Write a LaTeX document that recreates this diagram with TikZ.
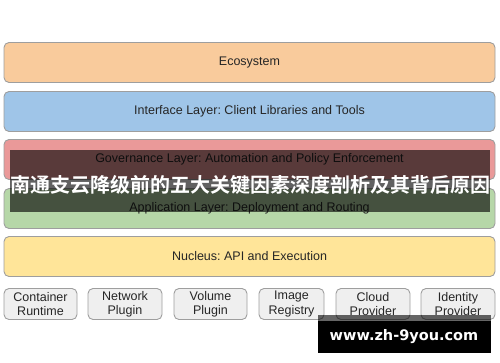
\documentclass[tikz,border=0pt]{standalone}
\usepackage{fontspec}
\setmainfont{Liberation Sans}
\newfontfamily\cjk{Noto Sans CJK SC}[BoldFont={Noto Sans CJK SC Bold}]
\newfontfamily\urlfont{DejaVu Sans}
\usetikzlibrary{positioning}
\definecolor{ecoorange}{HTML}{F9CB9C}
\definecolor{ifaceblue}{HTML}{9FC5E8}
\definecolor{govred}{HTML}{EA9999}
\definecolor{appgreen}{HTML}{B6D7A8}
\definecolor{nucyellow}{HTML}{FFE599}
\definecolor{plugingray}{HTML}{EFEFEF}
\definecolor{edgegray}{HTML}{9E9E9E}
\tikzset{
  layer/.style={rectangle, rounded corners=5pt, draw=edgegray, line width=0.9pt, minimum width=491pt, minimum height=40pt, inner sep=0pt, font=\fontsize{12.5}{14}\selectfont, text=black!85},
  plugin/.style={rectangle, rounded corners=5pt, draw=edgegray, fill=plugingray, line width=0.9pt, minimum width=74pt, minimum height=31pt, inner sep=0pt, align=center, font=\fontsize{12.5}{14.3}\selectfont, text=black!85},
  banner/.style={fill=black, fill opacity=0.62, draw=none},
  bannertext/.style={text=white, font=\cjk\bfseries\fontsize{20}{22}\selectfont},
  urlbox/.style={fill=black, draw=none},
  urltext/.style={text=white, font=\urlfont\bfseries\fontsize{14.5}{16}\selectfont}
}
\begin{document}
\frenchspacing
\begin{tikzpicture}[x=1pt, y=-1pt]
  \useasboundingbox (0,0) rectangle (500,362);
  \node[layer, fill=ecoorange] (eco) at (249.5,62.5) {Ecosystem};
  \node[layer, fill=ifaceblue] (iface) at (249.5,111.5) {Interface Layer: Client Libraries and Tools};
  \node[layer, fill=govred] (gov) at (249.5,159.5) {Governance Layer: Automation and Policy Enforcement};
  \node[layer, fill=appgreen] (app) at (249.5,208.5) {Application Layer: Deployment and Routing};
  \node[layer, fill=nucyellow] (nucleus) at (249.5,256.5) {Nucleus: API and Execution};

  \node[plugin, minimum width=73pt] (runtime) at (40.5,304) {Container\\Runtime};
  \node[plugin] (network) at (125,304) {Network\\Plugin};
  \node[plugin, minimum width=73pt] (volume) at (210.5,304) {Volume\\Plugin};
  \node[plugin, minimum width=65pt] (registry) at (291.5,304) {Image\\Registry};
  \node[plugin] (cloud) at (373,304) {Cloud\\Provider};
  \node[plugin] (identity) at (458,304) {Identity\\Provider};

  \path[banner] (10,150) rectangle (490,212);
  \node[bannertext] (title) at (250,184.5) {南通支云降级前的五大关键因素深度剖析及其背后原因};
  \path[urlbox, fill opacity=0.6] (318,315) rectangle (491,321);
  \path[urlbox] (318,321) rectangle (491,353);
  \node[urltext] (site) at (404,337) {www.zh-9you.com};
\end{tikzpicture}
\end{document}
